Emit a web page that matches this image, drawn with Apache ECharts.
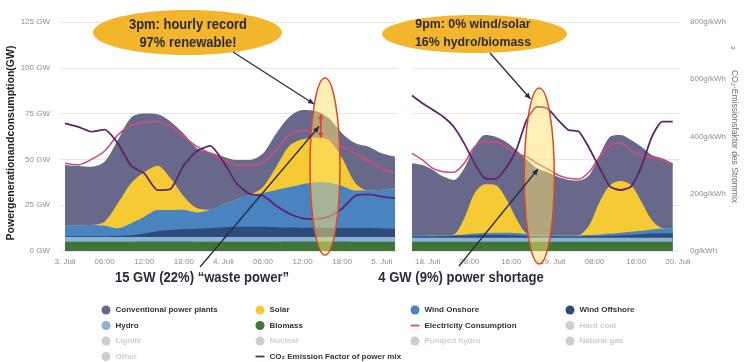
<!DOCTYPE html>
<html><head><meta charset="utf-8">
<script src="https://cdn.jsdelivr.net/npm/echarts@6/dist/echarts.min.js"></script>
<style>html,body{margin:0;padding:0;background:#fff}#c{width:748px;height:362px}</style>
</head><body><div id="c"></div>
<script>
// ---------- Left panel: hours since 3. Juli 00:00 ----------
const hoursL = [0,2,4,6,8,10,12,14,16,18,20,22,24,26,28,30,32,34,36,38,40,42,44,46,48,50];
const biomassL = [5.1,5.1,5.1,5.1,5.1,5.1,5.2,5.2,5.2,5.2,5.1,5.1,5.1,5.1,5.1,5.1,5.1,5.2,5.2,5.2,5.2,5.2,5.1,5.1,5.1,5.1];
const hydroL = [2.5,2.5,2.5,2.5,2.5,2.5,2.4,2.4,2.4,2.5,2.5,2.5,2.5,2.5,2.5,2.5,2.5,2.4,2.4,2.4,2.4,2.4,2.5,2.5,2.5,2.5];
const offshoreL = [0.4,0.4,0.4,0.5,0.6,1.0,2.0,3.2,3.8,4.3,4.6,5.0,5.4,5.6,5.7,5.6,5.4,5.2,5.1,5.1,5.1,5.0,5.0,4.9,4.7,4.6];
const onshoreL = [5.8,5.9,6.2,5.7,4.2,6.5,9.1,11.6,11.0,10.5,8.8,9.9,12.5,15.1,17.3,18.5,20.3,22.1,23.8,24.8,24.6,22.9,20.4,20.5,21.2,22.0];
const solarL = [0,0,0,2.2,13.6,21.9,24.3,24.2,17.3,7.2,2.3,0,0,0,0,3.3,12.7,22.6,24.5,24.5,23.2,15.1,4.0,0,0,0];
const conventionalL = [33.2,32.5,31.8,32.8,34.6,35.8,32.0,28.0,30.9,34.3,32.7,31.4,26.0,21.4,19.1,18.3,18.2,15.8,16.0,14.4,11.9,13.6,21.8,23.9,19.8,17.3];
const consumptionL = [47.9,47.0,50.0,54.6,63.3,68.8,70.2,70.7,68.2,62.4,57.0,53.3,50.0,47.0,46.6,48.4,55.1,63.3,65.7,65.1,61.5,57.0,53.3,49.1,45.1,42.4];
const co2L = [446,434,417,424,376,298,271,213,217,300,349,367,312,236,199,193,158,130,114,112,120,149,193,198,190,184];
const tickValsL = [0,6,12,18,24,30,36,42,48];
const tickLabelsL = ['3. Juli','06:00','12:00','18:00','4. Juli','06:00','12:00','18:00','5. Juli'];

// ---------- Right panel: hours since 18. Juli 00:00 ----------
const hoursR = [-3,-1,1,3,5,7,9,11,13,15,17,19,21,23,25,27,29,31,33,35,37,39,41,43,45,47];
const biomassR = [5.1,5.1,5.1,5.1,5.1,5.1,5.1,5.1,5.1,5.1,5.1,5.1,5.1,5.1,5.1,5.1,5.1,5.1,5.1,5.1,5.1,5.1,5.1,5.1,5.1,5.1];
const hydroR = [2.2,2.2,2.2,2.2,2.2,2.2,2.2,2.2,2.2,2.2,2.2,2.2,2.2,2.2,2.2,2.2,2.2,2.2,2.2,2.2,2.2,2.2,2.2,2.2,2.2,2.2];
const offshoreR = [0.6,0.6,0.6,0.7,0.9,1.1,1.3,1.4,1.5,1.4,1.2,1.0,0.8,0.7,0.6,0.6,0.6,0.7,0.8,1.0,1.3,1.6,1.9,2.2,2.4,2.4];
const onshoreR = [0.8,0.8,0.6,0.5,0.5,0.6,0.9,1.1,1.2,1.3,1.3,1.0,0.7,0.6,0.6,0.6,0.6,0.7,0.9,1.2,1.4,1.6,1.8,2.3,2.6,2.7];
const solarR = [0,0,0,0,0.3,8.8,22.0,26.6,26.0,18.8,8.0,0.3,0,0,0,0,0.3,5.5,17.9,26.5,28.2,25.5,15.9,5.1,0.3,0];
const conventionalR = [39.2,38.2,35.7,32.1,29.8,27.3,25.4,26.9,26.4,30.9,37.3,40.4,36.2,34.4,32.0,30.3,29.7,27.3,25.5,26.4,25.1,24.6,30.0,35.5,38.0,35.5];
const consumptionR = [53.3,49.7,45.1,43.3,43.0,47.9,56.9,59.7,59.7,56.9,53.3,51.5,47.8,44.8,41.5,39.7,39.3,43.3,51.5,57.9,58.8,55.1,52.4,50.9,49.7,46.9];
const co2R = [543,516,493,469,434,376,306,254,252,289,353,458,504,498,458,423,417,359,289,225,213,225,295,399,452,452];
const tickValsR = [0,8,16,24,32,40,48];
const tickLabelsR = ['18. Juli','08:00','16:00','19. Juli','08:00','16:00','20. Juli'];

const gwTicks = [0,25,50,75,100,125];
const co2Ticks = [0,200,400,600,800];

const FONT = "'Liberation Sans', Arial, Helvetica, sans-serif";
const C = {
  conv:'#67688a', solar:'#f6ca35', onshore:'#4a84c0', offshore:'#2d4c7c',
  hydro:'#8db0d6', biomass:'#3e7539', cons:'#cf4a7e', co2:'#5c2469'
};

function pairs(hours, vals){ return hours.map((h,i)=>[h, vals[i]]); }
// running sum over the stack layers (bottom -> top)
function cumulate(layers){
  const out=[]; let acc=layers[0].map(()=>0);
  layers.forEach(l=>{ acc=acc.map((a,i)=>+(a+l[i]).toFixed(2)); out.push(acc); });
  return out;
}
function area(name, color, g, hours, tops){
  return {name, type:'line', xAxisIndex:g, yAxisIndex:g*2, smooth:0.3, symbol:'none',
    lineStyle:{width:0, color}, areaStyle:{color, opacity:1, origin:'start'}, itemStyle:{color}, color, z:2,
    data: pairs(hours, tops)};
}
function line(name, color, g, yIdx, hours, vals, w, sm){
  return {name, type:'line', xAxisIndex:g, yAxisIndex:yIdx, smooth:sm, symbol:'none',
    lineStyle:{color, width:w}, itemStyle:{color}, color, z:3, data: pairs(hours, vals)};
}
const N_CONV='Conventional power plants', N_SOL='Solar', N_ON='Wind Onshore', N_OFF='Wind Offshore',
  N_HY='Hydro', N_BIO='Biomass', N_CONS='Electricity Consumption', N_CO2='CO\u2082 Emission Factor of power mix';

const series = [];
[[0,hoursL,biomassL,hydroL,offshoreL,onshoreL,solarL,conventionalL,consumptionL,co2L],
 [1,hoursR,biomassR,hydroR,offshoreR,onshoreR,solarR,conventionalR,consumptionR,co2R]].forEach(p=>{
  const [g,h,bio,hy,off,on,sol,conv,cons,co2]=p;
  const cum = cumulate([bio,hy,off,on,sol,conv]);
  // painted top layer first, lower layers over it
  series.push(area(N_CONV,C.conv,g,h,cum[5]));
  series.push(area(N_SOL,C.solar,g,h,cum[4]));
  series.push(area(N_ON,C.onshore,g,h,cum[3]));
  series.push(area(N_OFF,C.offshore,g,h,cum[2]));
  series.push(area(N_HY,C.hydro,g,h,cum[1]));
  series.push(area(N_BIO,C.biomass,g,h,cum[0]));
  series.push(line(N_CONS,C.cons,g,g*2,h,cons,1.6,0.3));
  series.push(line(N_CO2,C.co2,g,g*2+1,h,co2,1.8,0.2));
});
const hidden = ['Lignite','Other','Nuclear','Pumped hydro','Hard coal','Natural gas'];
hidden.forEach(n=>series.push({name:n, type:'line', xAxisIndex:0, yAxisIndex:0, data:[], color:'#ccc'}));
const sel = {}; hidden.forEach(n=>sel[n]=false);

const LINE_ICON = 'path://M0,0H10V2H0Z';
function legend(left, items){
  return {orient:'vertical', left, top:305, itemWidth:9, itemHeight:9, itemGap:5.5, padding:0,
    symbolKeepAspect:true, inactiveColor:'#d3cbcb', selected:sel,
    textStyle:{fontSize:8, fontWeight:'bold', color:'#333', lineHeight:10, fontFamily:FONT},
    data: items.map(it=>({name:it[0], icon:it[1]}))};
}

function arrow(x1,y1,x2,y2,color,w,hl,hw,both){
  const els=[{type:'line', z:110, shape:{x1,y1,x2,y2}, style:{stroke:color, lineWidth:w}}];
  const head=(ax,ay,bx,by)=>{
    const dx=bx-ax, dy=by-ay, L=Math.hypot(dx,dy), ux=dx/L, uy=dy/L;
    const px=-uy, py=ux, bx0=bx-ux*hl, by0=by-uy*hl;
    return {type:'polygon', z:111, shape:{points:[[bx,by],[bx0+px*hw,by0+py*hw],[bx0-px*hw,by0-py*hw]]}, style:{fill:color}};
  };
  els.push(head(x1,y1,x2,y2));
  if(both) els.push(head(x2,y2,x1,y1));
  return els;
}
function txt(x,y,text,size,sx,color,weight){
  return {type:'text', z:120, x, y, scaleX:sx, style:{text, font:(weight||'bold')+' '+size+'px '+FONT, fill:color||'#2c2a3c',
    align:'center', verticalAlign:'middle', textAlign:'center', textVerticalAlign:'middle'}};
}

const graphic = [
  {type:'ellipse', z:100, shape:{cx:325,cy:166.5,rx:15,ry:88.5}, style:{fill:'rgba(255,226,110,0.5)', stroke:'#d9482c', lineWidth:1.5}},
  {type:'ellipse', z:100, shape:{cx:539.3,cy:176,rx:15,ry:88}, style:{fill:'rgba(255,226,110,0.5)', stroke:'#d9482c', lineWidth:1.5}},
  {type:'ellipse', z:101, shape:{cx:187.5,cy:32.5,rx:94.5,ry:22.5}, style:{fill:'#f2b52c'}},
  {type:'ellipse', z:101, shape:{cx:474.5,cy:34,rx:92.5,ry:19}, style:{fill:'#f2b52c'}},
  txt(188,25,'3pm: hourly record',14.4,0.9),
  txt(188,43.5,'97% renewable!',14.4,0.9),
  txt(473,24.5,'9pm: 0% wind/solar',13,0.95),
  txt(473,42.5,'16% hydro/biomass',13,0.95),
  txt(202,278,'15 GW (22%) \u201cwaste power\u201d',15,0.87),
  txt(461,278,'4 GW (9%) power shortage',15,0.87),
  {type:'text', z:120, x:733, y:48, rotation:-Math.PI/2, style:{text:'2', font:'6px '+FONT, fill:'#6b6060', align:'center', verticalAlign:'middle'}},
  ...arrow(233,52,314,104,'#2b2a44',1.3,6,2.8),
  ...arrow(490,53,530.5,99,'#2b2a44',1.3,6,2.8),
  ...arrow(200,267,319,126.5,'#2b2a44',1.3,6,2.8),
  ...arrow(459,266,538,169,'#2b2a44',1.3,6,2.8),
  ...arrow(320.7,114.5,320.7,137.5,'#e2412b',1.8,4.5,2.8,true)
];

const axisLbl = {fontSize:8, color:'#958a8a', fontFamily:FONT};
const option = {
  animation:false,
  textStyle:{fontFamily:FONT},
  grid:[{left:60, top:22, width:337, height:229}, {left:412, top:22, width:268, height:229}],
  xAxis:[
    {gridIndex:0, type:'value', min:-0.76, max:50.3, axisLine:{show:false}, axisTick:{show:false}, splitLine:{show:false},
     axisLabel:Object.assign({}, axisLbl, {customValues:tickValsL, margin:7, formatter:v=>{const i=tickValsL.indexOf(v);return i>=0?tickLabelsL[i]:'';}})},
    {gridIndex:1, type:'value', min:-3, max:48.4, axisLine:{show:false}, axisTick:{show:false}, splitLine:{show:false},
     axisLabel:Object.assign({}, axisLbl, {customValues:tickValsR, margin:7, formatter:v=>{const i=tickValsR.indexOf(v);return i>=0?tickLabelsR[i]:'';}})}
  ],
  yAxis:[
    {gridIndex:0, type:'value', min:gwTicks[0], max:gwTicks[gwTicks.length-1], interval:25,
     axisLine:{show:false}, axisTick:{show:false}, splitLine:{lineStyle:{color:'#eee3e3', width:1}},
     axisLabel:Object.assign({}, axisLbl, {margin:10, formatter:'{value} GW'}),
     name:'Powergenerationandconsumption(GW)', nameLocation:'middle', nameGap:42, nameRotate:90,
     nameTextStyle:{fontSize:10.5, fontWeight:'bold', color:'#1e1e1e', fontFamily:FONT, padding:[0,13,0,0]}},
    {gridIndex:0, type:'value', min:co2Ticks[0], max:co2Ticks[co2Ticks.length-1], show:false},
    {gridIndex:1, type:'value', min:gwTicks[0], max:gwTicks[gwTicks.length-1], interval:25,
     axisLine:{show:false}, axisTick:{show:false}, axisLabel:{show:false},
     splitLine:{lineStyle:{color:'#eee3e3', width:1}}},
    {gridIndex:1, type:'value', position:'right', min:co2Ticks[0], max:co2Ticks[co2Ticks.length-1], interval:200,
     axisLine:{show:false}, axisTick:{show:false}, splitLine:{show:false},
     axisLabel:Object.assign({}, axisLbl, {margin:10, formatter:'{value}g/kWh'}),
     name:'CO\u2082-Emissionsfaktor des Strommix', nameLocation:'middle', nameGap:50, nameRotate:-90,
     nameTextStyle:{fontSize:8.5, color:'#7a6e6e', fontFamily:FONT}}
  ],
  legend:[
    legend(101.5, [[N_CONV,'circle'],[N_HY,'circle'],['Lignite','circle'],['Other','circle']]),
    legend(255.5, [[N_SOL,'circle'],[N_BIO,'circle'],['Nuclear','circle'],[N_CO2,LINE_ICON]]),
    legend(410.5, [[N_ON,'circle'],[N_CONS,LINE_ICON],['Pumped hydro','circle']]),
    legend(565.5, [[N_OFF,'circle'],['Hard coal','circle'],['Natural gas','circle']])
  ],
  series,
  graphic
};
const chart = echarts.init(document.getElementById('c'), null, {renderer:'canvas'});
chart.setOption(option);
</script></body></html>
